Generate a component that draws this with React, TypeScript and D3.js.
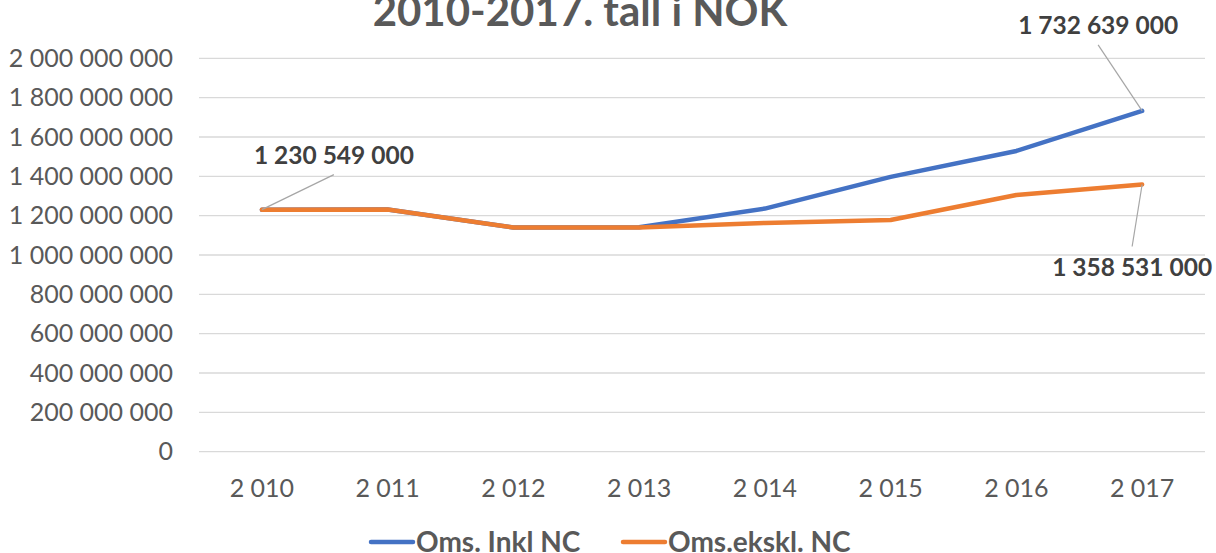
import React from "react";
import * as d3 from "d3";

const years = ["2 010", "2 011", "2 012", "2 013", "2 014", "2 015", "2 016", "2 017"];
const inklNC = [1230549000, 1231000000, 1140000000, 1141000000, 1236000000, 1397000000, 1529000000, 1732639000];
const ekslNC = [1230549000, 1231000000, 1140000000, 1140000000, 1163000000, 1178000000, 1305000000, 1358531000];
const yTicks = [0, 200000000, 400000000, 600000000, 800000000, 1000000000, 1200000000, 1400000000, 1600000000, 1800000000, 2000000000];
const seriesNames = ["Oms. Inkl NC", "Oms.ekskl. NC"];
const seriesColors = ["#4472C4", "#ED7D31"];
const titleText = "2010-2017. tall i NOK";

const W = 1216, H = 553;
const FONT = "Lato, 'Open Sans', sans-serif";

const fmt = (v: number) => {
  const s = Math.round(v).toString();
  return s.replace(/\B(?=(\d{3})+(?!\d))/g, " ");
};

export default function App() {
  const x = d3.scaleBand<string>().domain(years).range([199, 1205]);
  const y = d3.scaleLinear().domain([0, 2000000000]).range([451.7, 58.3]);
  const cx = (i: number) => (x(years[i]) as number) + x.bandwidth() / 2;
  const line = d3.line<number>().x((_, i) => cx(i)).y((d) => y(d));
  const series = [inklNC, ekslNC];
  const last = years.length - 1;

  return (
    <svg width={W} height={H} style={{ position: "absolute", left: 0, top: 0, background: "#fff" }}>
      <text x={580} y={26} textAnchor="middle" fontFamily={FONT} fontWeight="bold" fontSize={42} fill="#595959">
        {titleText}
      </text>
      {yTicks.map((t) => (
        <g key={t}>
          <line x1={199} x2={1205} y1={y(t)} y2={y(t)} stroke="#d9d9d9" strokeWidth={1.3} />
          <text x={173} y={y(t)} dy="0.35em" textAnchor="end" fontFamily={FONT} fontSize={25} fill="#595959">
            {fmt(t)}
          </text>
        </g>
      ))}
      {years.map((yr, i) => (
        <text key={yr} x={cx(i)} y={497} textAnchor="middle" fontFamily={FONT} fontSize={25} fill="#595959">
          {yr}
        </text>
      ))}
      {series.map((s, k) => (
        <path key={k} d={line(s) || ""} fill="none" stroke={seriesColors[k]} strokeWidth={4.5} strokeLinejoin="round" strokeLinecap="round" />
      ))}
      {/* data label leaders */}
      <line x1={cx(0)} y1={y(ekslNC[0])} x2={cx(0) + 72} y2={y(ekslNC[0]) - 35} stroke="#a6a6a6" strokeWidth={1.2} />
      <text x={cx(0) + 72} y={164} textAnchor="middle" fontFamily={FONT} fontWeight="bold" fontSize={24.5} fill="#404040">
        {fmt(ekslNC[0])}
      </text>
      <line x1={cx(last)} y1={y(inklNC[last])} x2={cx(last) - 44} y2={y(inklNC[last]) - 66} stroke="#a6a6a6" strokeWidth={1.2} />
      <text x={cx(last) - 44} y={34} textAnchor="middle" fontFamily={FONT} fontWeight="bold" fontSize={24.5} fill="#404040">
        {fmt(inklNC[last])}
      </text>
      <line x1={cx(last)} y1={y(ekslNC[last])} x2={cx(last) - 10} y2={y(ekslNC[last]) + 62} stroke="#a6a6a6" strokeWidth={1.2} />
      <text x={cx(last) - 10} y={276} textAnchor="middle" fontFamily={FONT} fontWeight="bold" fontSize={24.5} fill="#404040">
        {fmt(ekslNC[last])}
      </text>
      {/* legend */}
      {seriesNames.map((n, k) => {
        const lx = k === 0 ? 371 : 623;
        return (
          <g key={n}>
            <line x1={lx} x2={lx + 42} y1={542} y2={542} stroke={seriesColors[k]} strokeWidth={4.5} strokeLinecap="round" />
            <text x={lx + 45} y={552} fontFamily={FONT} fontWeight="bold" fontSize={28} fill="#595959">
              {n}
            </text>
          </g>
        );
      })}
    </svg>
  );
}
